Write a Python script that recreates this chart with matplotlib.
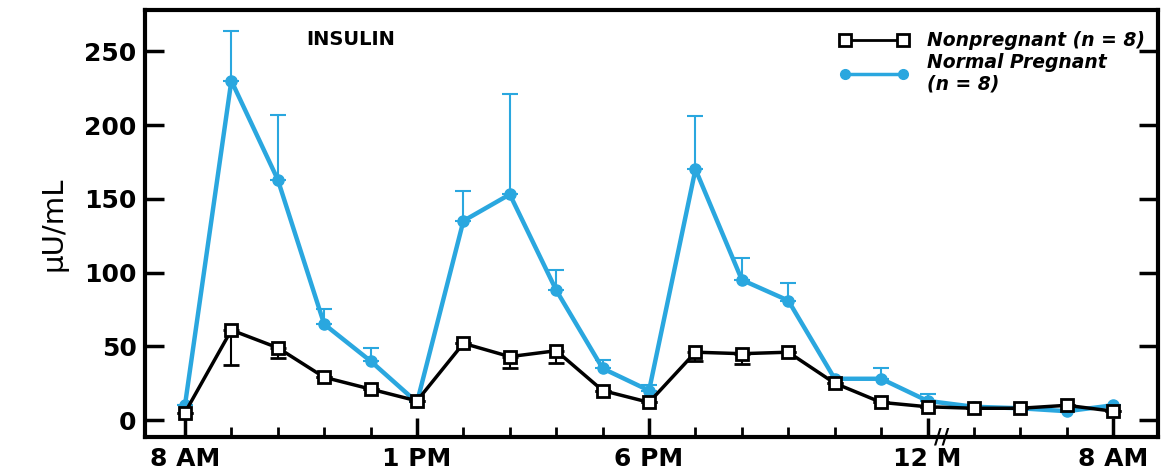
import matplotlib.pyplot as plt
import matplotlib.transforms as mtransforms
from matplotlib.lines import Line2D

# time points: hourly 8 AM .. 12 M, then every 2 h to 8 AM (axis compressed after the break)
times = ['8AM', '9AM', '10AM', '11AM', '12PM', '1PM', '2PM', '3PM', '4PM', '5PM', '6PM',
         '7PM', '8PM', '9PM', '10PM', '11PM', '12M', '2AM', '4AM', '6AM', '8AM']
x = list(range(len(times)))

tick_pos = [0, 5, 10, 16, 20]
tick_labels = ['8 AM', '1 PM', '6 PM', '12 M', '8 AM']

pregnant = [10, 230, 163, 65, 40, 12, 135, 153, 88, 35, 20,
            170, 95, 81, 28, 28, 13, 9, 8, 6, 10]
pregnant_err = [0, 34, 44, 10, 9, 0, 20, 68, 14, 6, 4,
                36, 15, 12, 0, 7, 5, 0, 0, 0, 0]

nonpregnant = [5, 61, 49, 29, 21, 13, 52, 43, 47, 20, 12,
               46, 45, 46, 25, 12, 9, 8, 8, 10, 6]
nonpregnant_err = [0, 24, 7, 0, 0, 0, 0, 8, 8, 0, 0,
                   6, 7, 0, 0, 0, 0, 0, 0, 0, 0]

blue = '#2aa7df'
font = 'DejaVu Sans'

fig = plt.figure(figsize=(11.64, 4.74), dpi=100)
ax = fig.add_axes([0.1246, 0.078, 0.8704, 0.901])

ax.errorbar(x, pregnant, yerr=[[0] * len(x), pregnant_err], color=blue, lw=3.2,
            marker='o', ms=8, mfc=blue, mec=blue, elinewidth=1.5, capsize=6,
            capthick=1.5, zorder=2)
ax.errorbar(x, nonpregnant, yerr=[nonpregnant_err, [0] * len(x)], color='black', lw=2.5,
            marker='s', ms=9, mfc='white', mec='black', mew=2, elinewidth=1.5,
            capsize=6, capthick=1.5, zorder=3)

ax.set_xlim(-0.86, 20.97)
ax.set_ylim(-11.5, 278)
ax.set_yticks([0, 50, 100, 150, 200, 250])
ax.set_xticks(tick_pos)
ax.set_xticklabels(tick_labels)
ax.set_xticks(x, minor=True)

for s in ax.spines.values():
    s.set_linewidth(3)

ax.tick_params(axis='both', which='major', direction='in', length=14, width=2.5,
               labelsize=18, right=True)
ax.tick_params(axis='x', which='minor', direction='in', length=7, width=2)
ax.tick_params(axis='x', which='major', pad=7)
ax.tick_params(axis='y', which='major', pad=6)
for lab in ax.get_xticklabels() + ax.get_yticklabels():
    lab.set_fontweight('bold')
    lab.set_family(font)

ax.set_ylabel('μU/mL', fontsize=21, family=font, labelpad=12)

ax.text(0.159, 0.93, 'INSULIN', transform=ax.transAxes, fontsize=14,
        fontweight='bold', family=font, va='center')

# axis break marks
trans = mtransforms.blended_transform_factory(ax.transData, ax.transAxes)
ax.text(16.3, 0.0, '//', transform=trans, fontsize=15, ha='center', va='center',
        fontweight='bold', family=font)

handles = [
    Line2D([], [], color='black', lw=2, marker='s', ms=8, mfc='white', mec='black', mew=2),
    Line2D([], [], color=blue, lw=2.5, marker='o', ms=7, mfc=blue, mec=blue),
]
labels = ['Nonpregnant (n = 8)', 'Normal Pregnant\n(n = 8)']
ax.legend(handles, labels, loc='upper right', bbox_to_anchor=(1.004, 0.99),
          frameon=False, numpoints=2,
          prop={'family': font, 'style': 'italic', 'weight': 'bold', 'size': 13.5},
          handlelength=3.7, handletextpad=1.0, labelspacing=0.15)

fig.savefig('out.png', dpi=100)
